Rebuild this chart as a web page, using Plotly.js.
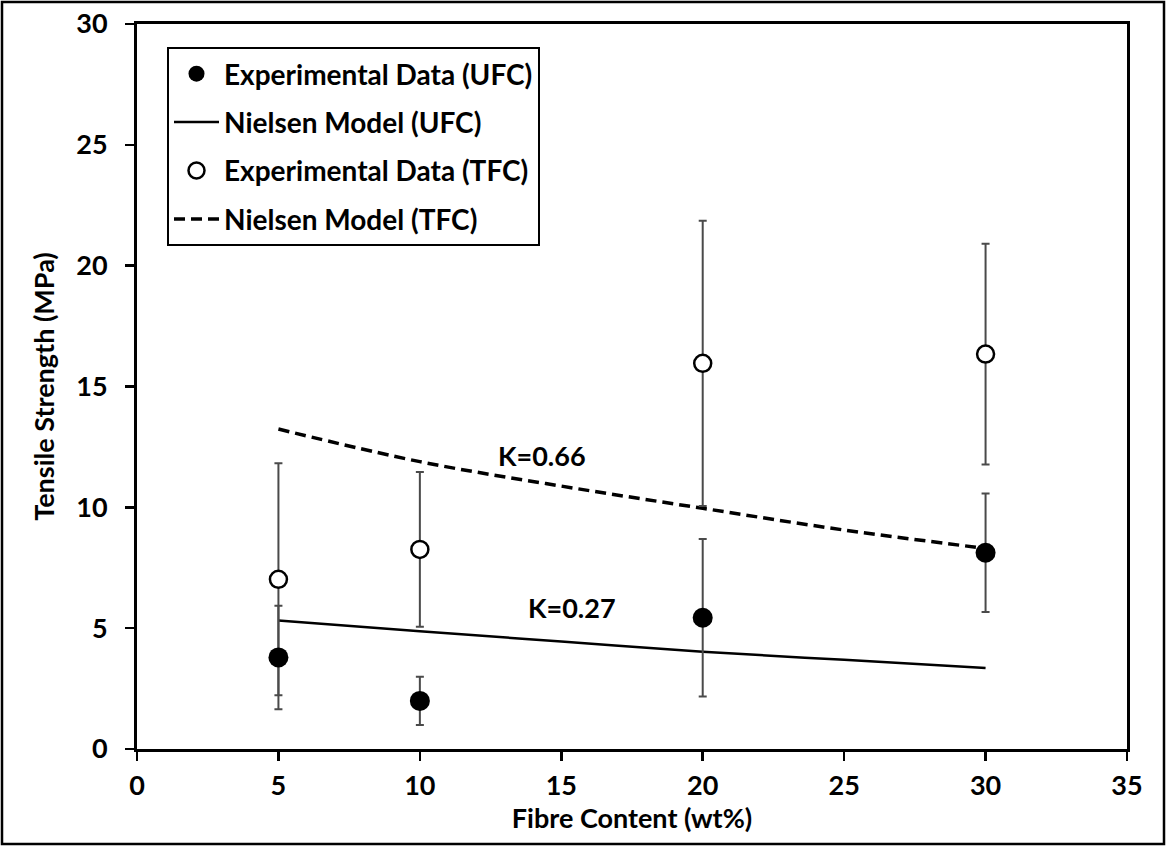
<!DOCTYPE html>
<html>
<head>
<meta charset="utf-8">
<script src="https://cdn.plot.ly/plotly-3.0.1.min.js"></script>
<style>
  html, body { margin: 0; padding: 0; background: #fff; }
  #chart { width: 1166px; height: 846px; }
</style>
</head>
<body>
<div id="chart"></div>
<script>
// Fibre content (wt%) of the experimental samples
const fibreContent = [5, 10, 20, 30];
// Experimental tensile strength (MPa) and error (±)
const ufcMean = [3.79, 1.99, 5.43, 8.12];
const ufcErr  = [2.14, 1.00, 3.26, 2.45];
const tfcMean = [7.02, 8.26, 15.96, 16.34];
const tfcErr  = [4.80, 3.20, 5.90, 4.57];
// Nielsen model curves
const modelFibre = [5, 10, 15, 20, 25, 30];
const ufcModel = [5.32, 4.87, 4.45, 4.02, 3.69, 3.35];
const tfcModel = [13.24, 11.89, 10.88, 9.96, 9.06, 8.30];
// Labels
const seriesNames = ["Experimental Data (UFC)", "Nielsen Model (UFC)", "Experimental Data (TFC)", "Nielsen Model (TFC)"];
const kLabels = [{text: "K=0.66", x: 14.32, y: 12.15}, {text: "K=0.27", x: 15.38, y: 5.85}];
const xTicks = [0, 5, 10, 15, 20, 25, 30, 35];
const yTicks = [0, 5, 10, 15, 20, 25, 30];

const FONT = "Lato, 'Open Sans', sans-serif";
const FS = 27;
const boldFont = (s) => ({family: FONT, size: s, color: '#000', weight: 'bold'});
const errStyle = {type: 'data', visible: true, color: '#4a4a4a', thickness: 2, width: 4};

const traces = [
  {x: modelFibre, y: tfcModel, name: seriesNames[3], mode: 'lines', type: 'scatter',
   line: {color: '#000', width: 3.5, dash: '11px,6px', shape: 'spline'},
   legendrank: 4, legendgroup: 'd'},
  {x: modelFibre, y: ufcModel, name: seriesNames[1], mode: 'lines', type: 'scatter',
   line: {color: '#000', width: 2.5, shape: 'spline'},
   legendrank: 2, legendgroup: 'b'},
  {x: fibreContent, y: tfcMean, name: seriesNames[2], mode: 'markers', type: 'scatter',
   marker: {symbol: 'circle', size: 17, color: '#fff', line: {color: '#000', width: 2.5}},
   error_y: Object.assign({array: tfcErr}, errStyle),
   legendrank: 3, legendgroup: 'c'},
  {x: fibreContent, y: ufcMean, name: seriesNames[0], mode: 'markers', type: 'scatter',
   marker: {symbol: 'circle', size: 20, color: '#000', line: {color: '#000', width: 0}},
   error_y: Object.assign({array: ufcErr}, errStyle),
   legendrank: 1, legendgroup: 'a'}
];

const plotW = 990, plotH = 725, L = 137, T = 24;
const layout = {
  width: 1166, height: 846,
  margin: {l: L, r: 1166 - L - plotW, t: T, b: 846 - T - plotH, pad: 0},
  paper_bgcolor: '#fff', plot_bgcolor: '#fff',
  font: boldFont(FS),
  showlegend: true,
  legend: {
    x: (167 - L) / plotW, y: 1 - (47 - T) / plotH, xanchor: 'left', yanchor: 'top',
    bordercolor: '#000', borderwidth: 2, bgcolor: '#fff',
    font: boldFont(28),
    traceorder: 'grouped', tracegroupgap: 9, itemwidth: 45
  },
  xaxis: {
    range: [0, 35], tickvals: xTicks, ticktext: xTicks.map(String),
    showgrid: false, zeroline: false,
    showline: true, linecolor: '#000', linewidth: 3, mirror: true,
    ticks: 'outside', ticklen: 9, tickwidth: 2.5, tickcolor: '#000',
    tickfont: boldFont(FS),
    ticklabelstandoff: 2,
    title: {text: 'Fibre Content (wt%)', font: boldFont(FS), standoff: 3}
  },
  yaxis: {
    range: [0, 30], tickvals: yTicks, ticktext: yTicks.map(String),
    showgrid: false, zeroline: false,
    showline: true, linecolor: '#000', linewidth: 3, mirror: true,
    ticks: 'outside', ticklen: 9, tickwidth: 2.5, tickcolor: '#000',
    tickfont: boldFont(FS),
    ticklabelstandoff: 12,
    title: {text: 'Tensile Strength (MPa)', font: boldFont(FS), standoff: 14}
  },
  annotations: kLabels.map(k => ({
    x: k.x, y: k.y, xref: 'x', yref: 'y', text: k.text, showarrow: false,
    font: boldFont(FS)
  })),
  shapes: [{
    type: 'rect', xref: 'paper', yref: 'paper',
    x0: (2 - L) / plotW, x1: (1164 - L) / plotW,
    y0: 1 - (844 - T) / plotH, y1: 1 - (2 - T) / plotH,
    line: {color: '#000', width: 2.5}, fillcolor: 'rgba(0,0,0,0)', layer: 'below'
  }]
};

Plotly.newPlot('chart', traces, layout, {displayModeBar: false, staticPlot: true});
</script>
</body>
</html>
